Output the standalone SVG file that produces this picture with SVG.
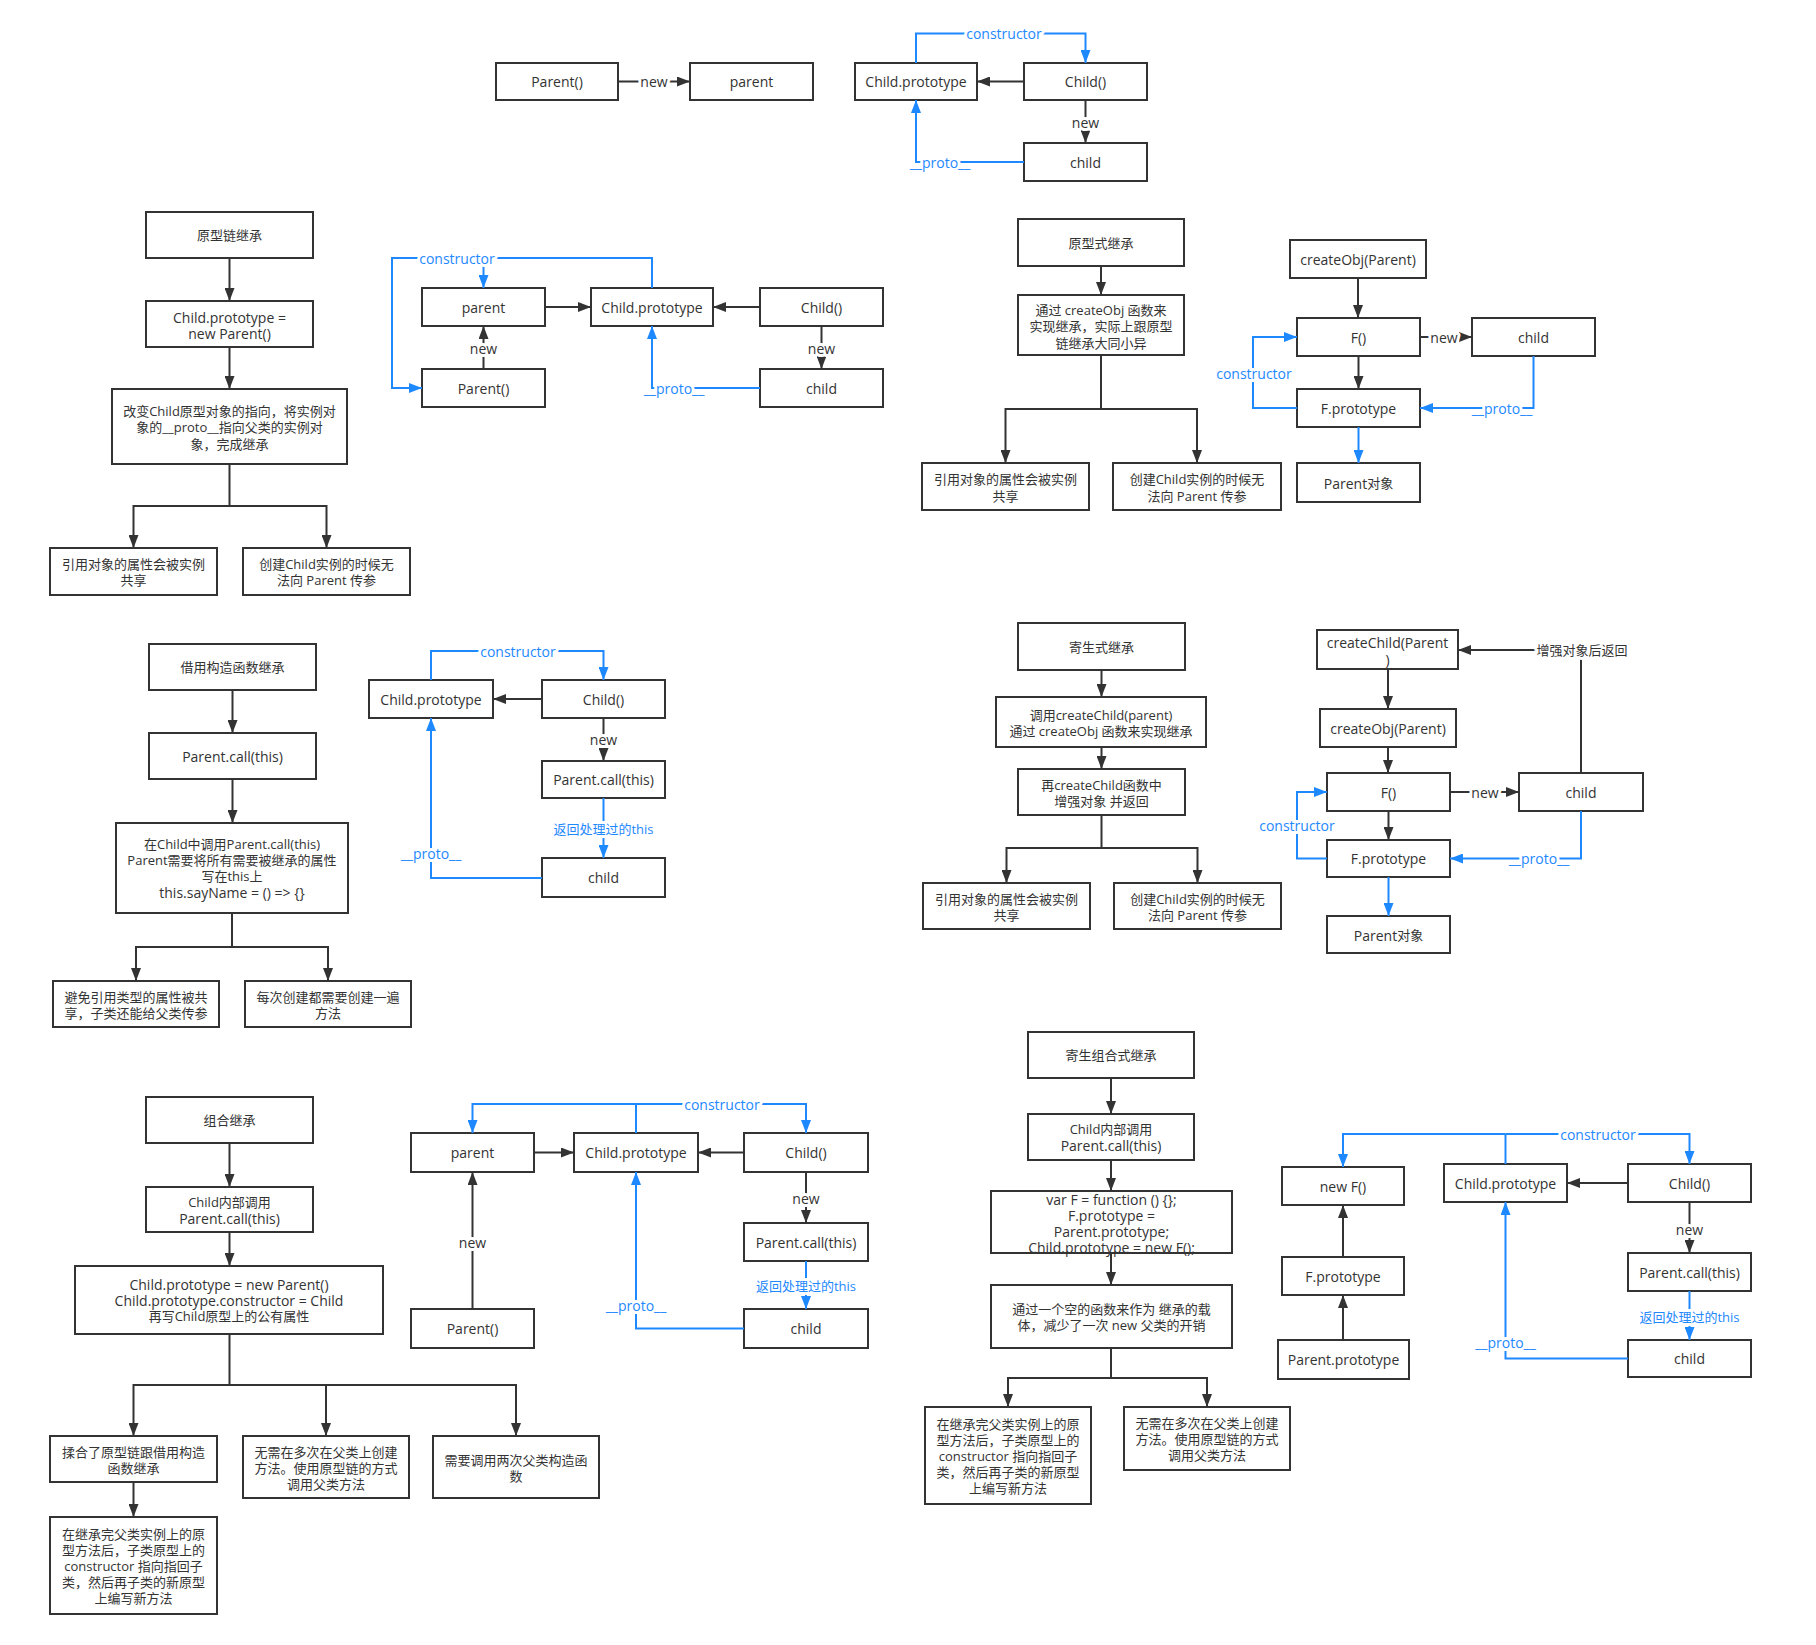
<svg xmlns="http://www.w3.org/2000/svg" width="1816" height="1645" viewBox="0 0 1816 1645">
<defs>
<style>
.b{fill:#fff;stroke:#333;stroke-width:2}
text{font-family:"Open Sans","Noto Sans CJK SC",sans-serif;font-size:13px;text-anchor:middle;dominant-baseline:central}
.e,.e tspan{font-size:14px}
.t{fill:#333}
.k{fill:none;stroke:#333;stroke-width:2;marker-end:url(#ak)}
.kn{fill:none;stroke:#333;stroke-width:2}
.u{fill:none;stroke:#1e88ff;stroke-width:2;marker-end:url(#au)}
.un{fill:none;stroke:#1e88ff;stroke-width:2}
.lk{fill:#333;stroke:#fff;stroke-width:6;paint-order:stroke;stroke-linejoin:round}
.lu{fill:#1e88ff;stroke:#fff;stroke-width:6;paint-order:stroke;stroke-linejoin:round}
</style>
<marker id="ak" markerUnits="userSpaceOnUse" viewBox="0 0 13 10" markerWidth="13" markerHeight="10" refX="13" refY="5" orient="auto"><path d="M0,0L13,5L0,10z" fill="#333"/></marker>
<marker id="au" markerUnits="userSpaceOnUse" viewBox="0 0 13 10" markerWidth="13" markerHeight="10" refX="13" refY="5" orient="auto"><path d="M0,0L13,5L0,10z" fill="#1e88ff"/></marker>
</defs>
<rect width="1816" height="1645" fill="#fff"/>

<!-- Top -->
<g id="top-Parent-fn"><rect class="b" x="496" y="63" width="122" height="37"/><text class="t e" x="557" y="81.5">Parent()</text></g>
<g id="top-parent"><rect class="b" x="690" y="63" width="123" height="37"/><text class="t e" x="751.5" y="81.5">parent</text></g>
<g id="top-childproto"><rect class="b" x="855" y="63" width="122" height="37"/><text class="t e" x="916" y="81.5">Child.prototype</text></g>
<g id="top-childfn"><rect class="b" x="1024" y="63" width="123" height="37"/><text class="t e" x="1085.5" y="81.5">Child()</text></g>
<g id="top-child"><rect class="b" x="1024" y="143" width="123" height="38"/><text class="t e" x="1085.5" y="162">child</text></g>

<!-- Section 1 left -->
<g id="s1-title"><rect class="b" x="146" y="212" width="167" height="46"/><text class="t" x="229.5" y="235">原型链继承</text></g>
<g id="s1-step1"><rect class="b" x="146" y="301" width="167" height="46"/><text class="t e"><tspan x="229.5" y="316.5">Child.prototype =</tspan><tspan x="229.5" y="332.5">new Parent()</tspan></text></g>
<g id="s1-step2"><rect class="b" x="112" y="389" width="235" height="75"/><text class="t"><tspan x="229.5" y="411">改变Child原型对象的指向，将实例对</tspan><tspan x="229.5" y="427">象的__proto__指向父类的实例对</tspan><tspan x="229.5" y="443.5">象，完成继承</tspan></text></g>
<g id="s1-res1"><rect class="b" x="50" y="548" width="167" height="47"/><text class="t"><tspan x="133.5" y="564">引用对象的属性会被实例</tspan><tspan x="133.5" y="580">共享</tspan></text></g>
<g id="s1-res2"><rect class="b" x="243" y="548" width="167" height="47"/><text class="t"><tspan x="326.5" y="564">创建Child实例的时候无</tspan><tspan x="326.5" y="580">法向 Parent 传参</tspan></text></g>

<!-- Section 1 middle -->
<g id="s1m-parent"><rect class="b" x="422" y="288" width="123" height="38"/><text class="t e" x="483.5" y="307">parent</text></g>
<g id="s1m-childproto"><rect class="b" x="591" y="288" width="122" height="38"/><text class="t e" x="652" y="307">Child.prototype</text></g>
<g id="s1m-childfn"><rect class="b" x="760" y="288" width="123" height="38"/><text class="t e" x="821.5" y="307">Child()</text></g>
<g id="s1m-Parentfn"><rect class="b" x="422" y="369" width="123" height="38"/><text class="t e" x="483.5" y="388">Parent()</text></g>
<g id="s1m-child"><rect class="b" x="760" y="369" width="123" height="38"/><text class="t e" x="821.5" y="388">child</text></g>

<!-- Section 1 right -->
<g id="s1r-title"><rect class="b" x="1018" y="219" width="166" height="47"/><text class="t" x="1101" y="242.5">原型式继承</text></g>
<g id="s1r-step1"><rect class="b" x="1018" y="295" width="166" height="60"/><text class="t"><tspan x="1101" y="309.5">通过 createObj 函数来</tspan><tspan x="1101" y="326">实现继承，实际上跟原型</tspan><tspan x="1101" y="342.5">链继承大同小异</tspan></text></g>
<g id="s1r-res1"><rect class="b" x="922" y="463" width="167" height="47"/><text class="t"><tspan x="1005.5" y="479">引用对象的属性会被实例</tspan><tspan x="1005.5" y="495.5">共享</tspan></text></g>
<g id="s1r-res2"><rect class="b" x="1113" y="463" width="168" height="47"/><text class="t"><tspan x="1197" y="479">创建Child实例的时候无</tspan><tspan x="1197" y="495.5">法向 Parent 传参</tspan></text></g>

<!-- Section 1 far right -->
<g id="s1f-createObj"><rect class="b" x="1290" y="240" width="136" height="38"/><text class="t e" x="1358" y="259">createObj(Parent)</text></g>
<g id="s1f-F"><rect class="b" x="1297" y="318" width="123" height="38"/><text class="t e" x="1358.5" y="337">F()</text></g>
<g id="s1f-child"><rect class="b" x="1472" y="318" width="123" height="38"/><text class="t e" x="1533.5" y="337">child</text></g>
<g id="s1f-Fproto"><rect class="b" x="1297" y="389" width="123" height="38"/><text class="t e" x="1358.5" y="408">F.prototype</text></g>
<g id="s1f-parentobj"><rect class="b" x="1297" y="463" width="123" height="39"/><text class="t" x="1358.5" y="482.5"><tspan class="e">Parent</tspan>对象</text></g>

<!-- Section 2 left -->
<g id="s2-title"><rect class="b" x="149" y="644" width="167" height="46"/><text class="t" x="232.5" y="667">借用构造函数继承</text></g>
<g id="s2-step1"><rect class="b" x="149" y="733" width="167" height="46"/><text class="t e" x="232.5" y="756">Parent.call(this)</text></g>
<g id="s2-step2"><rect class="b" x="116" y="823" width="232" height="90"/><text class="t"><tspan x="232" y="844">在Child中调用Parent.call(this)</tspan><tspan x="232" y="860">Parent需要将所有需要被继承的属性</tspan><tspan x="232" y="876">写在this上</tspan><tspan class="e" x="232" y="892">this.sayName = () =&gt; {}</tspan></text></g>
<g id="s2-res1"><rect class="b" x="53" y="981" width="166" height="46"/><text class="t"><tspan x="136" y="996.5">避免引用类型的属性被共</tspan><tspan x="136" y="1012.5">享，子类还能给父类传参</tspan></text></g>
<g id="s2-res2"><rect class="b" x="245" y="981" width="166" height="46"/><text class="t"><tspan x="328" y="996.5">每次创建都需要创建一遍</tspan><tspan x="328" y="1012.5">方法</tspan></text></g>

<!-- Section 2 middle -->
<g id="s2m-childproto"><rect class="b" x="369" y="680" width="124" height="38"/><text class="t e" x="431" y="699">Child.prototype</text></g>
<g id="s2m-childfn"><rect class="b" x="542" y="680" width="123" height="38"/><text class="t e" x="603.5" y="699">Child()</text></g>
<g id="s2m-call"><rect class="b" x="542" y="761" width="123" height="37"/><text class="t e" x="603.5" y="779.5">Parent.call(this)</text></g>
<g id="s2m-child"><rect class="b" x="542" y="858" width="123" height="39"/><text class="t e" x="603.5" y="877.5">child</text></g>

<!-- Section 2 right -->
<g id="s2r-title"><rect class="b" x="1018" y="623" width="167" height="47"/><text class="t" x="1101.5" y="646.5">寄生式继承</text></g>
<g id="s2r-step1"><rect class="b" x="996" y="697" width="210" height="50"/><text class="t"><tspan x="1101" y="714.5">调用createChild(parent)</tspan><tspan x="1101" y="730.5">通过 createObj 函数来实现继承</tspan></text></g>
<g id="s2r-step2"><rect class="b" x="1018" y="769" width="167" height="46"/><text class="t"><tspan x="1101.5" y="784.5">再createChild函数中</tspan><tspan x="1101.5" y="800.5">增强对象 并返回</tspan></text></g>
<g id="s2r-res1"><rect class="b" x="923" y="883" width="167" height="46"/><text class="t"><tspan x="1006.5" y="898.5">引用对象的属性会被实例</tspan><tspan x="1006.5" y="914.5">共享</tspan></text></g>
<g id="s2r-res2"><rect class="b" x="1114" y="883" width="167" height="46"/><text class="t"><tspan x="1197.5" y="898.5">创建Child实例的时候无</tspan><tspan x="1197.5" y="914.5">法向 Parent 传参</tspan></text></g>

<!-- Section 2 far right -->
<g id="s2f-createChild"><rect class="b" x="1317" y="630" width="141" height="39"/><text class="t e"><tspan x="1387.5" y="642">createChild(Parent</tspan><tspan x="1387.5" y="658.5">)</tspan></text></g>
<g id="s2f-createObj"><rect class="b" x="1320" y="709" width="136" height="38"/><text class="t e" x="1388" y="728">createObj(Parent)</text></g>
<g id="s2f-F"><rect class="b" x="1327" y="773" width="123" height="38"/><text class="t e" x="1388.5" y="792">F()</text></g>
<g id="s2f-child"><rect class="b" x="1519" y="773" width="124" height="38"/><text class="t e" x="1581" y="792">child</text></g>
<g id="s2f-Fproto"><rect class="b" x="1327" y="840" width="123" height="37"/><text class="t e" x="1388.5" y="858.5">F.prototype</text></g>
<g id="s2f-parentobj"><rect class="b" x="1327" y="916" width="123" height="37"/><text class="t" x="1388.5" y="934.5"><tspan class="e">Parent</tspan>对象</text></g>

<!-- Section 3 left -->
<g id="s3-title"><rect class="b" x="146" y="1097" width="167" height="46"/><text class="t" x="229.5" y="1120">组合继承</text></g>
<g id="s3-step1"><rect class="b" x="146" y="1187" width="167" height="45"/><text class="t"><tspan x="229.5" y="1201.5">Child内部调用</tspan><tspan class="e" x="229.5" y="1217.5">Parent.call(this)</tspan></text></g>
<g id="s3-step2"><rect class="b" x="75" y="1266" width="308" height="68"/><text class="t"><tspan class="e" x="229" y="1283.5">Child.prototype = new Parent()</tspan><tspan class="e" x="229" y="1299.5">Child.prototype.constructor = Child</tspan><tspan x="229" y="1316">再写Child原型上的公有属性</tspan></text></g>
<g id="s3-resA"><rect class="b" x="50" y="1436" width="167" height="46"/><text class="t"><tspan x="133.5" y="1451.5">揉合了原型链跟借用构造</tspan><tspan x="133.5" y="1467.5">函数继承</tspan></text></g>
<g id="s3-resB"><rect class="b" x="243" y="1436" width="166" height="62"/><text class="t"><tspan x="326" y="1451.5">无需在多次在父类上创建</tspan><tspan x="326" y="1467.5">方法。使用原型链的方式</tspan><tspan x="326" y="1483.5">调用父类方法</tspan></text></g>
<g id="s3-resC"><rect class="b" x="433" y="1436" width="166" height="62"/><text class="t"><tspan x="516" y="1459.5">需要调用两次父类构造函</tspan><tspan x="516" y="1475.5">数</tspan></text></g>
<g id="s3-resD"><rect class="b" x="50" y="1517" width="167" height="97"/><text class="t"><tspan x="133.5" y="1533.5">在继承完父类实例上的原</tspan><tspan x="133.5" y="1549.5">型方法后，子类原型上的</tspan><tspan x="133.5" y="1565.5">constructor 指向指回子</tspan><tspan x="133.5" y="1581.5">类，然后再子类的新原型</tspan><tspan x="133.5" y="1597.5">上编写新方法</tspan></text></g>

<!-- Section 3 middle -->
<g id="s3m-parent"><rect class="b" x="411" y="1133" width="123" height="39"/><text class="t e" x="472.5" y="1152.5">parent</text></g>
<g id="s3m-childproto"><rect class="b" x="574" y="1133" width="124" height="39"/><text class="t e" x="636" y="1152.5">Child.prototype</text></g>
<g id="s3m-childfn"><rect class="b" x="744" y="1133" width="124" height="39"/><text class="t e" x="806" y="1152.5">Child()</text></g>
<g id="s3m-call"><rect class="b" x="744" y="1223" width="124" height="38"/><text class="t e" x="806" y="1242">Parent.call(this)</text></g>
<g id="s3m-child"><rect class="b" x="744" y="1309" width="124" height="39"/><text class="t e" x="806" y="1328.5">child</text></g>
<g id="s3m-Parentfn"><rect class="b" x="411" y="1309" width="123" height="39"/><text class="t e" x="472.5" y="1328.5">Parent()</text></g>

<!-- Section 3 right -->
<g id="s3r-title"><rect class="b" x="1028" y="1032" width="166" height="46"/><text class="t" x="1111" y="1055">寄生组合式继承</text></g>
<g id="s3r-step1"><rect class="b" x="1028" y="1114" width="166" height="46"/><text class="t"><tspan x="1111" y="1129">Child内部调用</tspan><tspan class="e" x="1111" y="1145">Parent.call(this)</tspan></text></g>
<g id="s3r-step2"><rect class="b" x="991" y="1191" width="241" height="62"/><text class="t e"><tspan x="1111.5" y="1199">var F = function () {};</tspan><tspan x="1111.5" y="1215">F.prototype =</tspan><tspan x="1111.5" y="1231">Parent.prototype;</tspan><tspan x="1111.5" y="1247">Child.prototype = new F();</tspan></text></g>
<g id="s3r-step3"><rect class="b" x="991" y="1285" width="241" height="63"/><text class="t"><tspan x="1111.5" y="1309">通过一个空的函数来作为 继承的载</tspan><tspan x="1111.5" y="1325">体，减少了一次 new 父类的开销</tspan></text></g>
<g id="s3r-resL"><rect class="b" x="925" y="1407" width="166" height="97"/><text class="t"><tspan x="1008" y="1423.5">在继承完父类实例上的原</tspan><tspan x="1008" y="1439.5">型方法后，子类原型上的</tspan><tspan x="1008" y="1455.5">constructor 指向指回子</tspan><tspan x="1008" y="1471.5">类，然后再子类的新原型</tspan><tspan x="1008" y="1487.5">上编写新方法</tspan></text></g>
<g id="s3r-resR"><rect class="b" x="1124" y="1407" width="166" height="63"/><text class="t"><tspan x="1207" y="1422.5">无需在多次在父类上创建</tspan><tspan x="1207" y="1438.5">方法。使用原型链的方式</tspan><tspan x="1207" y="1454.5">调用父类方法</tspan></text></g>

<!-- Section 3 far right -->
<g id="s3f-newF"><rect class="b" x="1282" y="1167" width="122" height="38"/><text class="t e" x="1343" y="1186">new F()</text></g>
<g id="s3f-Fproto"><rect class="b" x="1282" y="1257" width="122" height="38"/><text class="t e" x="1343" y="1276">F.prototype</text></g>
<g id="s3f-parentproto"><rect class="b" x="1278" y="1340" width="131" height="39"/><text class="t e" x="1343.5" y="1359.5">Parent.prototype</text></g>
<g id="s3f-childproto"><rect class="b" x="1444" y="1164" width="123" height="38"/><text class="t e" x="1505.5" y="1183">Child.prototype</text></g>
<g id="s3f-childfn"><rect class="b" x="1628" y="1164" width="123" height="38"/><text class="t e" x="1689.5" y="1183">Child()</text></g>
<g id="s3f-call"><rect class="b" x="1628" y="1253" width="123" height="38"/><text class="t e" x="1689.5" y="1272">Parent.call(this)</text></g>
<g id="s3f-child"><rect class="b" x="1628" y="1340" width="123" height="37"/><text class="t e" x="1689.5" y="1358.5">child</text></g>

<g id="connectors">
<!-- top -->
<path class="k" d="M618,81.5H690"/>
<path class="k" d="M1024,81.5H977"/>
<path class="k" d="M1085.5,100V143"/>
<path class="u" d="M916,63V33.5H1085.5V63"/>
<path class="u" d="M1024,162H916V100"/>
<!-- s1 left -->
<path class="k" d="M229.5,258V301"/>
<path class="k" d="M229.5,347V389"/>
<path class="k" d="M229.5,464V506H133.5V548"/>
<path class="k" d="M229.5,506H326.5V548"/>
<!-- s1 middle -->
<path class="u" d="M652,288V258H392V388H422"/>
<path class="u" d="M483.5,258V288"/>
<path class="k" d="M545,307H591"/>
<path class="k" d="M760,307H713"/>
<path class="k" d="M483.5,369V326"/>
<path class="k" d="M821.5,326V369"/>
<path class="u" d="M760,388H652V326"/>
<!-- s1 right -->
<path class="k" d="M1101,266V295"/>
<path class="k" d="M1101,355V409H1005.5V463"/>
<path class="k" d="M1101,409H1197V463"/>
<!-- s1 far right -->
<path class="k" d="M1358,278V318"/>
<path class="k" d="M1358.5,356V389"/>
<path class="u" d="M1358.5,427V463"/>
<path class="k" d="M1420,337H1472"/>
<path class="u" d="M1533.5,356V408H1420"/>
<path class="u" d="M1297,408H1253V337H1297"/>
<!-- s2 left -->
<path class="k" d="M232.5,690V733"/>
<path class="k" d="M232.5,779V823"/>
<path class="k" d="M232,913V947H136V981"/>
<path class="k" d="M232,947H328V981"/>
<!-- s2 middle -->
<path class="u" d="M431,680V651H603.5V680"/>
<path class="k" d="M542,699H493"/>
<path class="k" d="M603.5,718V761"/>
<path class="u" d="M603.5,798V858"/>
<path class="u" d="M542,878H431V718"/>
<!-- s2 right -->
<path class="k" d="M1101.5,670V697"/>
<path class="k" d="M1101.5,747V769"/>
<path class="k" d="M1101.5,815V848H1006.5V883"/>
<path class="k" d="M1101.5,848H1197.5V883"/>
<!-- s2 far right -->
<path class="k" d="M1388,669V709"/>
<path class="k" d="M1388,747V773"/>
<path class="k" d="M1388.5,811V840"/>
<path class="u" d="M1388.5,877V916"/>
<path class="k" d="M1450,792H1519"/>
<path class="k" d="M1581,773V650H1458"/>
<path class="u" d="M1581,811V858.5H1450"/>
<path class="u" d="M1327,858.5H1297V792H1327"/>
<!-- s3 left -->
<path class="k" d="M229.5,1143V1187"/>
<path class="k" d="M229.5,1232V1266"/>
<path class="k" d="M229.5,1334V1385H133.5V1436"/>
<path class="k" d="M229.5,1385H326V1436"/>
<path class="k" d="M229.5,1385H516V1436"/>
<path class="k" d="M133.5,1482V1517"/>
<!-- s3 middle -->
<path class="un" d="M636,1133V1104"/>
<path class="u" d="M636,1104H472.5V1133"/>
<path class="u" d="M636,1104H806V1133"/>
<path class="k" d="M534,1152.5H574"/>
<path class="k" d="M744,1152.5H698"/>
<path class="k" d="M472.5,1309V1172"/>
<path class="k" d="M806,1172V1223"/>
<path class="u" d="M806,1261V1309"/>
<path class="u" d="M744,1328.5H636V1172"/>
<!-- s3 right -->
<path class="k" d="M1111,1078V1114"/>
<path class="k" d="M1111,1160V1191"/>
<path class="k" d="M1111,1253V1285"/>
<path class="k" d="M1111,1348V1378H1008V1407"/>
<path class="k" d="M1111,1378H1207V1407"/>
<!-- s3 far right -->
<path class="k" d="M1343,1257V1205"/>
<path class="k" d="M1343,1340V1295"/>
<path class="un" d="M1505.5,1164V1134"/>
<path class="u" d="M1505.5,1134H1343V1167"/>
<path class="u" d="M1505.5,1134H1689.5V1164"/>
<path class="k" d="M1628,1183H1567"/>
<path class="k" d="M1689.5,1202V1253"/>
<path class="u" d="M1689.5,1291V1340"/>
<path class="u" d="M1628,1358.5H1505.5V1202"/>

<!-- labels -->
<text class="lk e" x="654" y="81.5">new</text>
<text class="lk e" x="1085.5" y="122">new</text>
<text class="lu e" x="1004" y="33.5">constructor</text>
<text class="lu e" x="940" y="162">__proto__</text>

<text class="lu e" x="457" y="258">constructor</text>
<text class="lk e" x="483.5" y="348">new</text>
<text class="lk e" x="821.5" y="348">new</text>
<text class="lu e" x="674" y="388">__proto__</text>

<text class="lk e" x="1444" y="337">new</text>
<text class="lu e" x="1502" y="408">__proto__</text>
<text class="lu e" x="1254" y="373">constructor</text>

<text class="lu e" x="518" y="651">constructor</text>
<text class="lk e" x="603.5" y="739">new</text>
<text class="lu" x="603.5" y="829">返回处理过的this</text>
<text class="lu e" x="431" y="853">__proto__</text>

<text class="lk e" x="1485" y="792">new</text>
<text class="lk" x="1582" y="650">增强对象后返回</text>
<text class="lu e" x="1539" y="858.5">__proto__</text>
<text class="lu e" x="1297" y="825">constructor</text>

<text class="lu e" x="722" y="1104">constructor</text>
<text class="lk e" x="472.5" y="1242">new</text>
<text class="lk e" x="806" y="1198">new</text>
<text class="lu" x="806" y="1286">返回处理过的this</text>
<text class="lu e" x="636" y="1305">__proto__</text>

<text class="lu e" x="1598" y="1134">constructor</text>
<text class="lk e" x="1689.5" y="1229">new</text>
<text class="lu" x="1689.5" y="1316.5">返回处理过的this</text>
<text class="lu e" x="1505.5" y="1342">__proto__</text>
</g>
</svg>
